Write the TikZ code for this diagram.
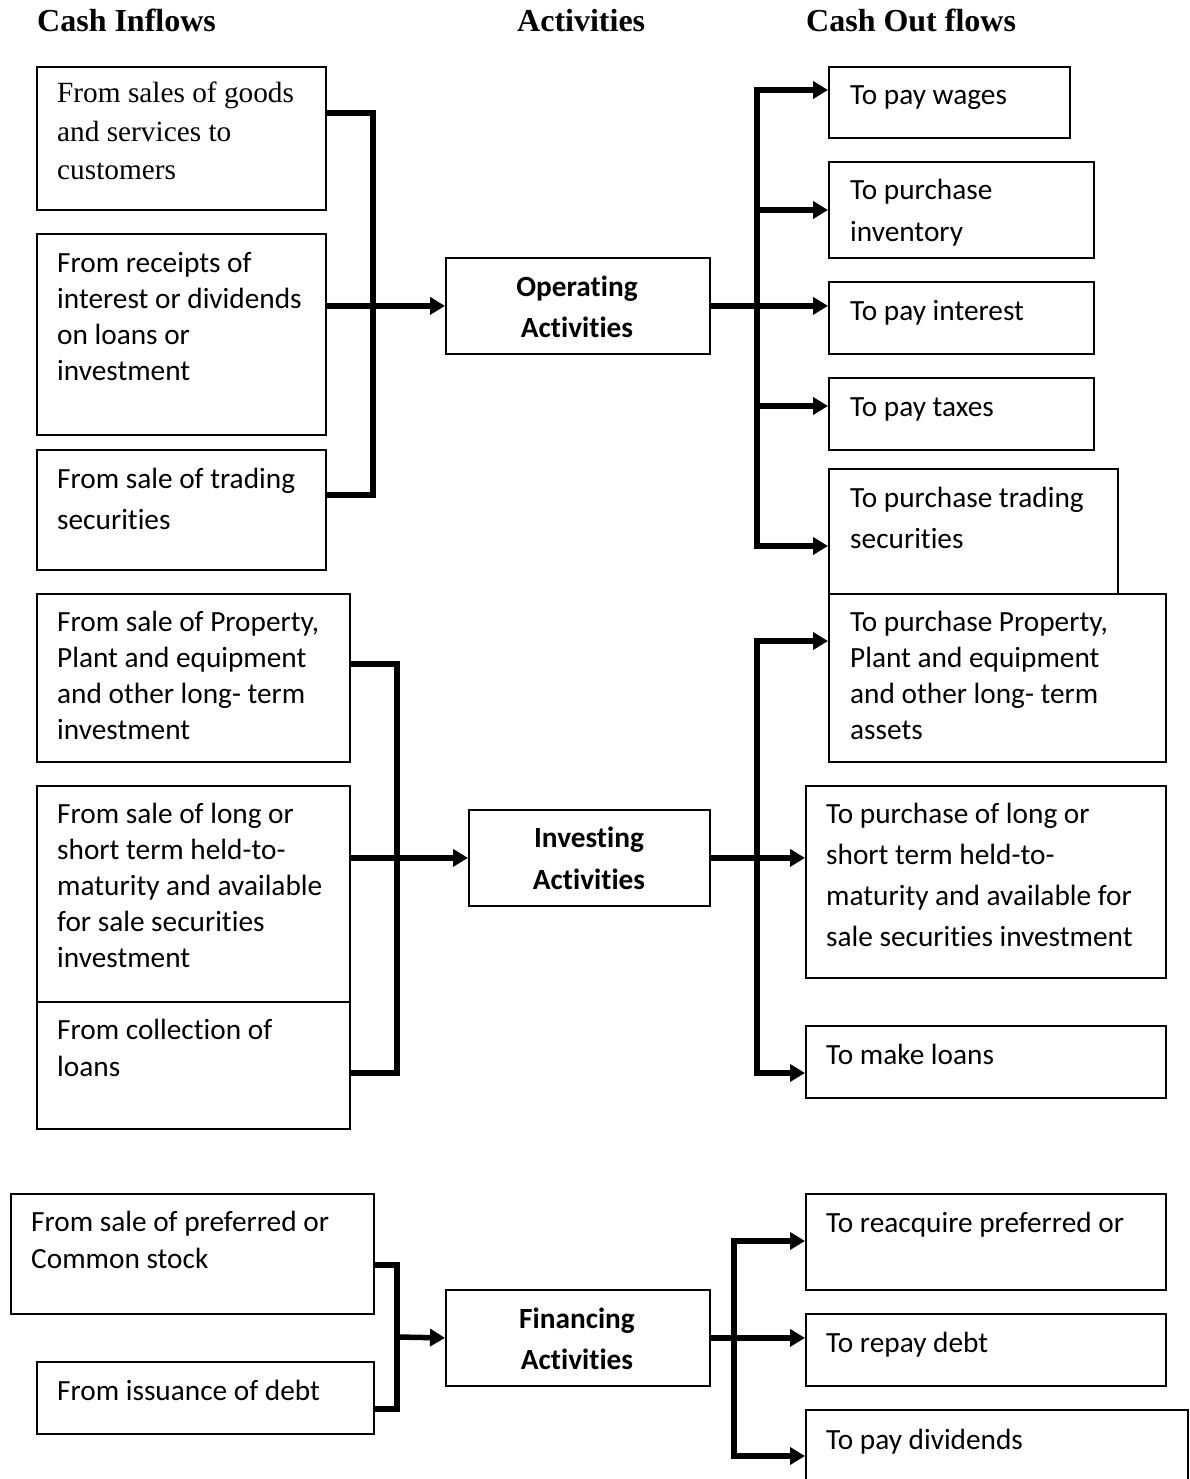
\documentclass[tikz,border=0pt]{standalone}
\usepackage{fontspec}
\setmainfont{Carlito}[Ligatures={NoCommon,NoRare,NoContextual}, RawFeature={-liga;-clig;-dlig;-hlig;-calt}]
\newfontfamily\tnr{Liberation Serif}
\usetikzlibrary{arrows.meta}
\newcommand\bx[5]{\node[box, minimum width={#4-#2}, minimum height={#5-#3}] (#1) at (#2,#3) {};}
% name, x, first baseline, skip, lines, text
\newcommand\tx[6]{\node[txt, font=\fontsize{29.3}{#4}\selectfont] (#1) at (#2,{#3+(#5-1)*#4}) {#6};}
\begin{document}
\begin{tikzpicture}[x=1pt,y=-1pt,
 box/.style={draw, line width=1.8pt, inner sep=0pt, anchor=north west, fill=white},
 txt/.style={inner sep=0pt, anchor=base west, align=left},
 ctxt/.style={inner sep=0pt, anchor=base, align=center},
 conn/.style={line width=5.5pt, line join=miter},
 arr/.style={conn, -{Triangle[length=15pt,width=17pt]}}]
\useasboundingbox (0,0) rectangle (1189,1479);
% titles
\node[anchor=base west, inner sep=0pt, font=\tnr\bfseries\fontsize{32}{38}\selectfont] (h1) at (37,32) {Cash Inflows};
\node[anchor=base west, inner sep=0pt, font=\tnr\bfseries\fontsize{32}{38}\selectfont] (h2) at (517,32) {Activities};
\node[anchor=base west, inner sep=0pt, font=\tnr\bfseries\fontsize{32}{38}\selectfont] (h3) at (806,32) {Cash Out flows};
% operating
\bx{b1}{36}{66}{325}{209}
\bx{b2}{36}{233}{325}{434}
\bx{b3}{36}{449}{325}{569}
\bx{op}{445}{257}{709}{353}
\bx{r1}{828}{66}{1069}{137}
\bx{r2}{828}{161}{1093}{257}
\bx{r3}{828}{281}{1093}{353}
\bx{r4}{828}{377}{1093}{449}
\bx{r5}{828}{468}{1117}{600}
% investing
\bx{l4}{36}{593}{349}{761}
\bx{l5}{36}{785}{349}{1001}
\bx{l6}{36}{1001}{349}{1128}
\bx{inv}{468}{809}{709}{905}
\bx{r6}{828}{593}{1165}{761}
\bx{r7}{805}{785}{1165}{977}
\bx{r8}{805}{1025}{1165}{1097}
% financing
\bx{l7}{10}{1193}{373}{1313}
\bx{l8}{36}{1361}{373}{1433}
\bx{fin}{445}{1289}{709}{1385}
\bx{r9}{805}{1193}{1165}{1289}
\bx{r10}{805}{1313}{1165}{1385}
\bx{r11}{805}{1409}{1187}{1484}
% texts
\node[txt, font=\tnr\fontsize{29.3}{38.5}\selectfont] (tb1) at (57,{103+2*38.5}) {From sales of goods\\and services to\\customers};
\tx{tb2}{57}{272}{36}{4}{From receipts of\\interest or dividends\\on loans or\\investment}
\tx{tb3}{57}{488}{41}{2}{From sale of trading\\securities}
\node[ctxt, font=\bfseries\fontsize{29.3}{41}\selectfont] (top) at (577,{296+41}) {Operating\\Activities};
\tx{tr1}{850}{105}{36}{1}{To pay wages}
\tx{tr2}{850}{200}{41}{2}{To purchase\\inventory}
\tx{tr3}{850}{320}{36}{1}{To pay interest}
\tx{tr4}{850}{416}{36}{1}{To pay taxes}
\tx{tr5}{850}{507}{41}{2}{To purchase trading\\securities}
\tx{tl4}{57}{631}{36}{4}{From sale of Property,\\Plant and equipment\\and other long- term\\investment}
\tx{tl5}{57}{823}{36}{5}{From sale of long or\\short term held-to-\\maturity and available\\for sale securities\\investment}
\tx{tl6}{57}{1039}{37}{2}{From collection of\\loans}
\node[ctxt, font=\bfseries\fontsize{29.3}{42}\selectfont] (tinv) at (589,{847+42}) {Investing\\Activities};
\tx{tr6}{850}{631}{36}{4}{To purchase Property,\\Plant and equipment\\and other long- term\\assets}
\tx{tr7}{826}{823}{41}{4}{To purchase of long or\\short term held-to-\\maturity and available for\\sale securities investment}
\tx{tr8}{826}{1064}{36}{1}{To make loans}
\tx{tl7}{31}{1231}{37}{2}{From sale of preferred or\\Common stock}
\tx{tl8}{57}{1400}{36}{1}{From issuance of debt}
\node[ctxt, font=\bfseries\fontsize{29.3}{41}\selectfont] (tfin) at (577,{1328+41}) {Financing\\Activities};
\tx{tr9}{826}{1232}{36}{1}{To reacquire preferred or}
\tx{tr10}{826}{1352}{36}{1}{To repay debt}
\tx{tr11}{826}{1449}{36}{1}{To pay dividends}
% operating connectors
\draw[conn] (b1.east |- 0,113) -- (373,113) -- (373,495) -- (b3.east |- 0,495);
\draw[arr] (b2.east |- op.west) -- (op.west);
\draw[arr] (op.east) -- (r3.west |- op.east);
\draw[arr] (757,305) -- (757,90) -- (r1.west |- 0,90);
\draw[arr] (757,305) -- (757,546) -- (r5.west |- 0,546);
\draw[arr] (757,210) -- (r2.west |- 0,210);
\draw[arr] (757,406) -- (r4.west |- 0,406);
% investing connectors
\draw[conn] (l4.east |- 0,664) -- (397,664) -- (397,1073) -- (l6.east |- 0,1073);
\draw[arr] (l5.east |- inv.west) -- (inv.west);
\draw[arr] (inv.east) -- (r7.west |- inv.east);
\draw[arr] (757,857) -- (757,641) -- (r6.west |- 0,641);
\draw[arr] (757,857) -- (757,1073) -- (r8.west |- 0,1073);
% financing connectors
\draw[conn] (l7.east |- 0,1265) -- (397,1265) -- (397,1409) -- (l8.east |- 0,1409);
\draw[arr] (397,1337) -- (fin.west);
\draw[arr] (fin.east) -- (r10.west |- fin.east);
\draw[arr] (734,1337) -- (734,1241) -- (r9.west |- 0,1241);
\draw[arr] (734,1337) -- (734,1456) -- (r11.west |- 0,1456);
\end{tikzpicture}
\end{document}
